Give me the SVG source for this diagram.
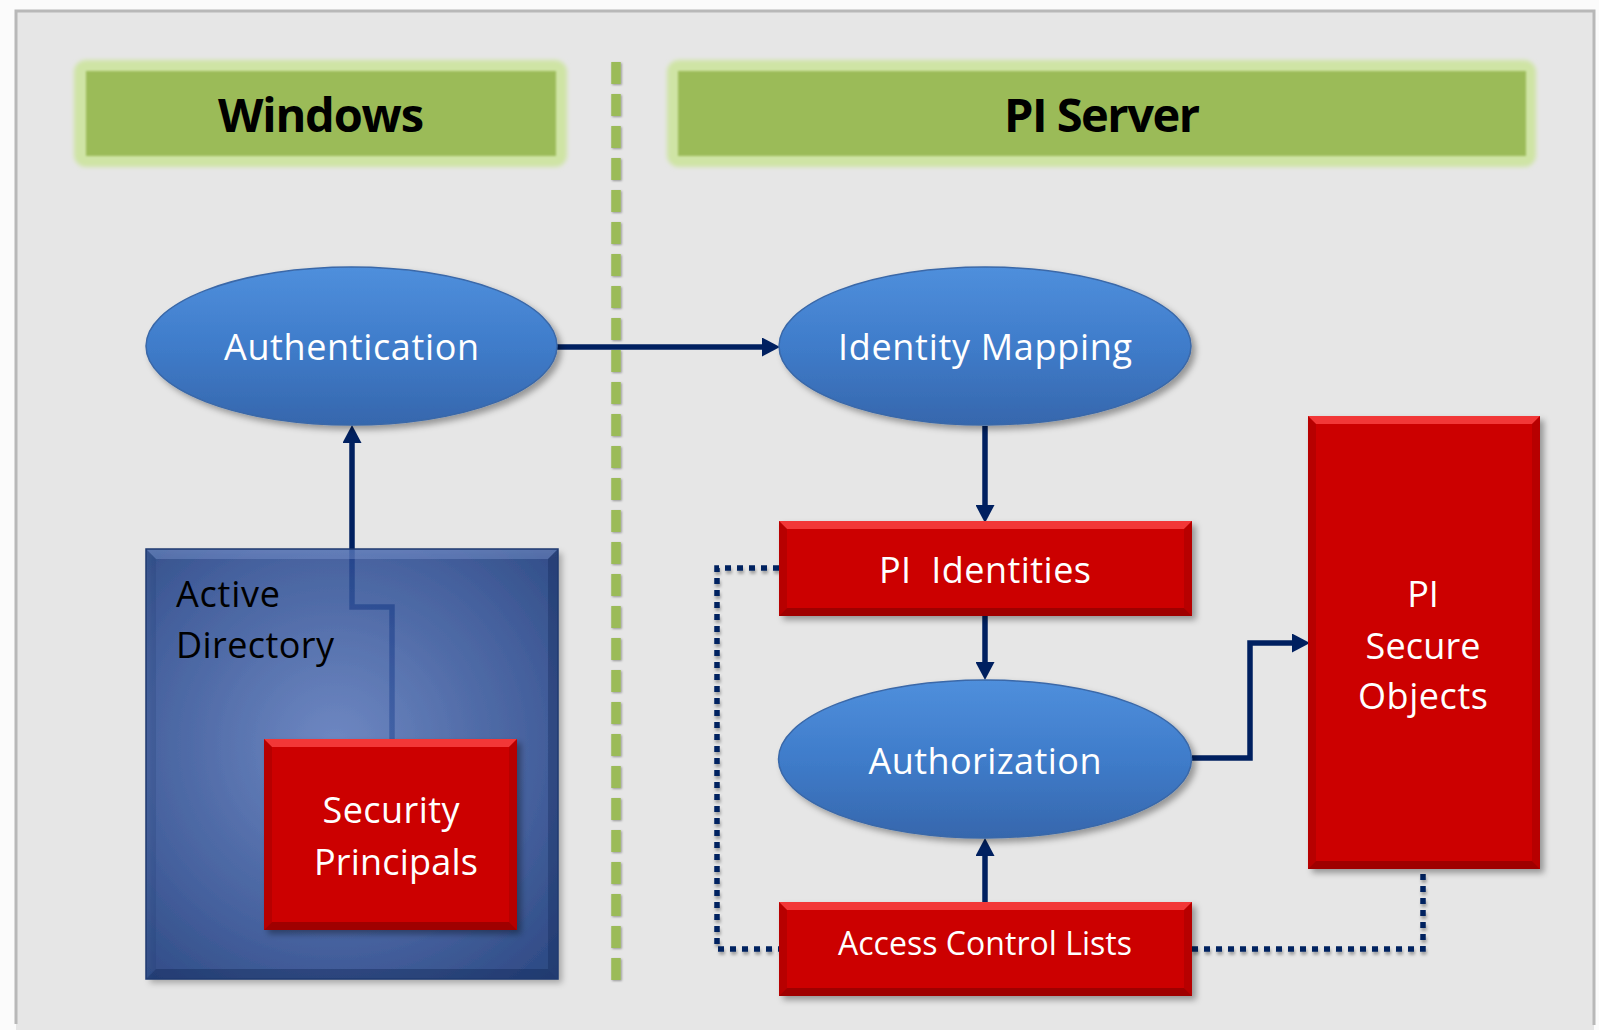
<svg xmlns="http://www.w3.org/2000/svg" width="1599" height="1030" viewBox="0 0 1599 1030">
<style>
  .hdr { font-family: "Open Sans", "Liberation Sans", sans-serif; font-weight: bold; font-size: 47px; fill: #000; text-anchor: middle; }
  .wl { font-family: "Open Sans", "Liberation Sans", sans-serif; font-size: 36px; fill: #fff; text-anchor: middle; white-space: pre; }
  .bl { font-family: "Open Sans", "Liberation Sans", sans-serif; font-size: 36px; fill: #000; }
  .red { fill: #cc0000; }
  .bt { fill: #ff4a4a; opacity: 0.75; }
  .bb { fill: #7a0000; opacity: 0.55; }
  .bs { fill: #900000; opacity: 0.35; }
  .ell { fill: url(#eg); stroke: #3a68a8; stroke-width: 1.5; }
  .conn { fill: none; stroke: #002060; stroke-width: 5.5; }
  .dot { fill: none; stroke: #002060; stroke-width: 5.5; stroke-dasharray: 6 6; }
</style>
<defs>
  <linearGradient id="eg" x1="0" y1="0" x2="0" y2="1">
    <stop offset="0" stop-color="#4f8fdc"/>
    <stop offset="0.5" stop-color="#3f7cca"/>
    <stop offset="1" stop-color="#3667ad"/>
  </linearGradient>
  <radialGradient id="adg" cx="335" cy="745" r="330" gradientUnits="userSpaceOnUse">
    <stop offset="0" stop-color="#5d7cc2"/>
    <stop offset="0.6" stop-color="#2c4d96"/>
    <stop offset="1" stop-color="#0b2d72"/>
  </radialGradient>
  <filter id="sh" x="-10%" y="-10%" width="130%" height="130%">
    <feDropShadow dx="4" dy="4" stdDeviation="3" flood-color="#000" flood-opacity="0.35"/>
  </filter>
  <filter id="shs" x="-5%" y="-20%" width="110%" height="160%">
    <feDropShadow dx="1" dy="3" stdDeviation="1.5" flood-color="#000" flood-opacity="0.3"/>
  </filter>
  <filter id="shd" filterUnits="userSpaceOnUse" x="600" y="50" width="40" height="945">
    <feDropShadow dx="1" dy="1" stdDeviation="1.2" flood-color="#000" flood-opacity="0.35"/>
  </filter>
  <filter id="glow" x="-10%" y="-20%" width="120%" height="140%">
    <feGaussianBlur stdDeviation="2"/>
  </filter>
  <filter id="soft" x="-5%" y="-10%" width="110%" height="120%">
    <feGaussianBlur stdDeviation="1.2"/>
  </filter>
  <marker id="ah" markerUnits="userSpaceOnUse" markerWidth="19" markerHeight="19" refX="8" refY="9.5" orient="auto">
    <path d="M0,0 L18,9.5 L0,19 z" fill="#002060"/>
  </marker>
</defs>

<!-- background panel -->
<rect x="0" y="0" width="1599" height="1030" fill="#fbfbfb"/>
<rect x="16" y="11" width="1578" height="1019" fill="#e6e6e6"/>
<path d="M16,1024 V11 H1594 V1025" fill="none" stroke="#b8b8b8" stroke-width="3"/>

<!-- headers -->
<g id="windows-header">
  <rect x="74" y="60" width="493" height="107" rx="12" fill="#cfe4a5" filter="url(#glow)"/>
  <rect x="86" y="71" width="470" height="85" fill="#9bbb59" filter="url(#soft)"/>
  <text class="hdr" x="321" y="132" textLength="206">Windows</text>
</g>
<g id="piserver-header">
  <rect x="667" y="60" width="869" height="107" rx="12" fill="#cfe4a5" filter="url(#glow)"/>
  <rect x="678" y="71" width="848" height="85" fill="#9bbb59" filter="url(#soft)"/>
  <text class="hdr" x="1102" y="132" textLength="196">PI Server</text>
</g>

<!-- connectors -->
<g id="connectors">
  <path class="conn" d="M557,347 H770" marker-end="url(#ah)"/>
  <path class="conn" d="M985,426 V513" marker-end="url(#ah)"/>
  <path class="conn" d="M985,616 V670" marker-end="url(#ah)"/>
  <path class="conn" d="M985,902 V848" marker-end="url(#ah)"/>
  <path class="conn" d="M1192,758 H1250 V643 H1300" marker-end="url(#ah)"/>
  <path class="conn" d="M392,739 V607 H352 V435" marker-end="url(#ah)"/>
  <g filter="url(#shs)">
    <path class="dot" d="M779,568 H717 V949 H779"/>
    <path class="dot" d="M1192,949 H1423 V869"/>
  </g>
</g>

<!-- divider -->
<g id="divider">
  <path d="M616,62 V982" fill="none" stroke="#9bbb59" stroke-width="9.5" stroke-dasharray="22 10" filter="url(#shd)"/>
</g>

<!-- Active Directory -->
<g id="active-directory">
  <g filter="url(#sh)">
    <rect x="146" y="549" width="412" height="430" fill="url(#adg)" opacity="0.8"/>
  </g>
  <polygon points="146,549 558,549 548,559 156,559" fill="#8aa3dc" opacity="0.35"/>
  <polygon points="146,979 558,979 548,969 156,969" fill="#0a1f4d" opacity="0.35"/>
  <polygon points="146,549 156,559 156,969 146,979" fill="#1a3570" opacity="0.2"/>
  <polygon points="558,549 548,559 548,969 558,979" fill="#0a1f4d" opacity="0.3"/>
  <rect x="146" y="549" width="412" height="430" fill="none" stroke="#1f3a70" stroke-width="1.5"/>
  <text class="bl" x="176" y="607" textLength="104">Active</text>
  <text class="bl" x="176" y="658" textLength="158">Directory</text>
</g>

<!-- Security Principals -->
<g id="security-principals">
  <rect class="red" x="264" y="739" width="253" height="191" filter="url(#sh)"/>
  <polygon class="bt" points="264,739 517,739 509,747 272,747"/>
  <polygon class="bb" points="264,930 517,930 509,922 272,922"/>
  <polygon class="bs" points="264,739 272,747 272,922 264,930"/>
  <polygon class="bs" points="517,739 509,747 509,922 517,930"/>
  <text class="wl" x="391" y="823" textLength="137">Security</text>
  <text class="wl" x="396" y="875" textLength="164">Principals</text>
</g>

<!-- Authentication -->
<g id="authentication">
  <ellipse class="ell" cx="351.5" cy="346" rx="205.5" ry="79" filter="url(#sh)"/>
  <text class="wl" x="351.5" y="360" textLength="255">Authentication</text>
</g>

<!-- Identity Mapping -->
<g id="identity-mapping">
  <ellipse class="ell" cx="985" cy="346" rx="206" ry="79" filter="url(#sh)"/>
  <text class="wl" x="985" y="360" textLength="294">Identity Mapping</text>
</g>

<!-- PI Identities -->
<g id="pi-identities">
  <rect class="red" x="779" y="521" width="413" height="95" filter="url(#sh)"/>
  <polygon class="bt" points="779,521 1192,521 1184,529 787,529"/>
  <polygon class="bb" points="779,616 1192,616 1184,608 787,608"/>
  <polygon class="bs" points="779,521 787,529 787,608 779,616"/>
  <polygon class="bs" points="1192,521 1184,529 1184,608 1192,616"/>
  <text class="wl" x="985" y="583" textLength="212">PI  Identities</text>
</g>

<!-- Authorization -->
<g id="authorization">
  <ellipse class="ell" cx="985" cy="759" rx="206.5" ry="79" filter="url(#sh)"/>
  <text class="wl" x="985" y="774" textLength="233">Authorization</text>
</g>

<!-- Access Control Lists -->
<g id="access-control-lists">
  <rect class="red" x="779" y="902" width="413" height="94" filter="url(#sh)"/>
  <polygon class="bt" points="779,902 1192,902 1184,910 787,910"/>
  <polygon class="bb" points="779,996 1192,996 1184,988 787,988"/>
  <polygon class="bs" points="779,902 787,910 787,988 779,996"/>
  <polygon class="bs" points="1192,902 1184,910 1184,988 1192,996"/>
  <text class="wl" x="985" y="955" style="font-size:32px" textLength="294">Access Control Lists</text>
</g>

<!-- PI Secure Objects -->
<g id="pi-secure-objects">
  <rect class="red" x="1308" y="416" width="232" height="453" filter="url(#sh)"/>
  <polygon class="bt" points="1308,416 1540,416 1532,424 1316,424"/>
  <polygon class="bb" points="1308,869 1540,869 1532,861 1316,861"/>
  <polygon class="bs" points="1308,416 1316,424 1316,861 1308,869"/>
  <polygon class="bs" points="1540,416 1532,424 1532,861 1540,869"/>
  <text class="wl" x="1423" y="607">PI</text>
  <text class="wl" x="1423" y="659" textLength="115">Secure</text>
  <text class="wl" x="1423" y="709" textLength="130">Objects</text>
</g>
</svg>
